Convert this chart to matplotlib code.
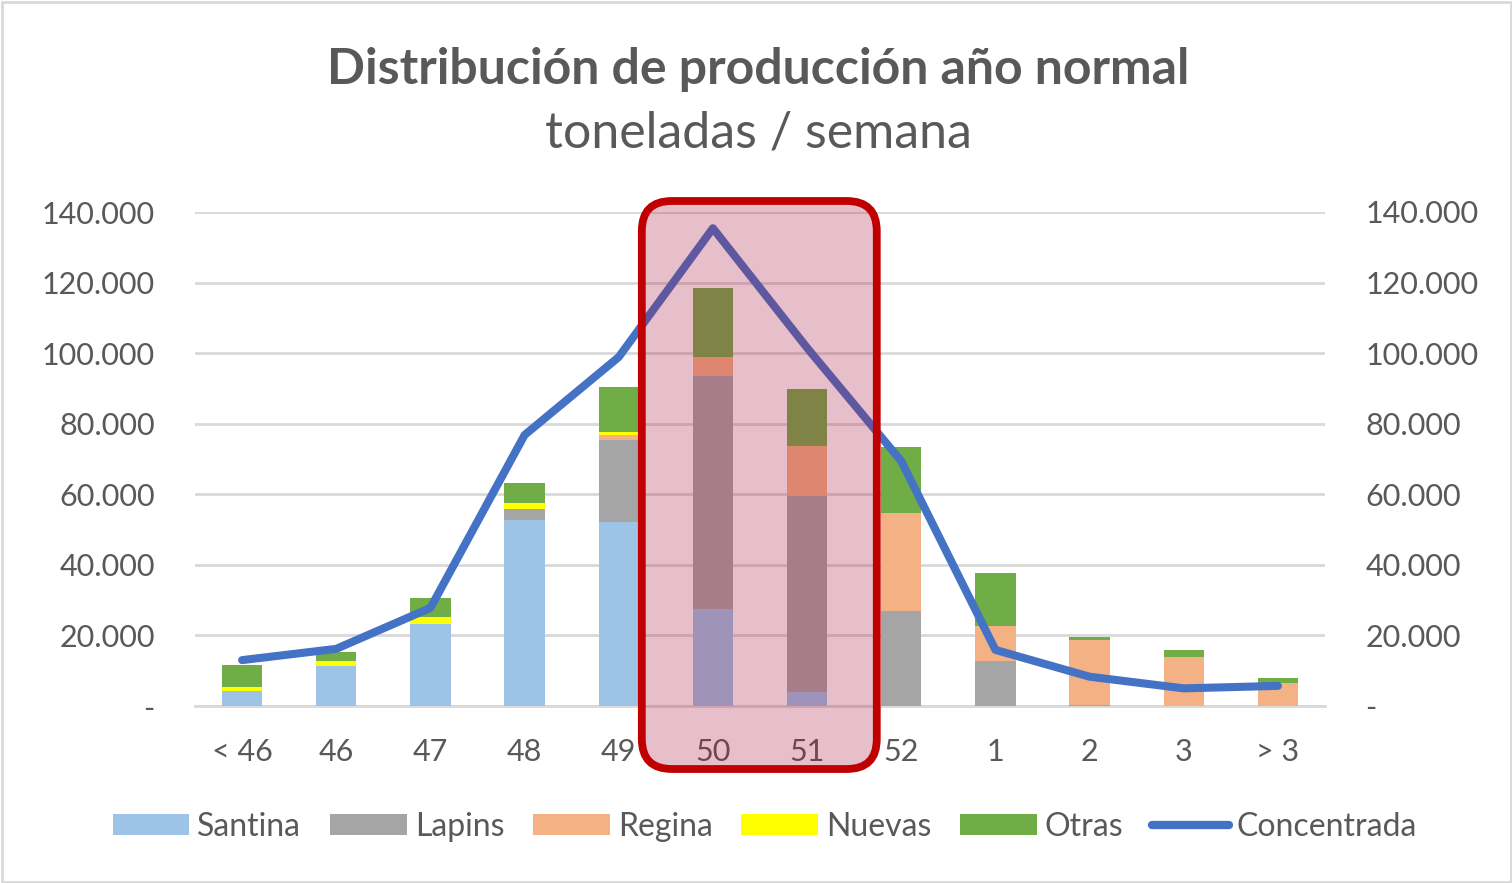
import matplotlib
matplotlib.use("Agg")
import matplotlib.pyplot as plt
from matplotlib.patches import FancyBboxPatch, Rectangle, Patch
from matplotlib.lines import Line2D
from matplotlib.ticker import FuncFormatter
import numpy as np

# ---- data ----
categories = ["< 46", "46", "47", "48", "49", "50", "51", "52", "1", "2", "3", "> 3"]
santina = [4300, 11300, 23200, 52700, 52200, 27400, 4100, 0, 0, 0, 0, 0]
lapins = [0, 0, 0, 3000, 23300, 66100, 55500, 26900, 12800, 400, 0, 0]
regina = [0, 0, 0, 0, 1200, 5300, 14200, 27700, 10000, 18300, 14000, 6600]
nuevas = [1200, 1500, 2100, 1700, 1000, 0, 0, 0, 0, 0, 0, 0]
otras = [6200, 2500, 5200, 5700, 12600, 19700, 16100, 18900, 15000, 800, 1900, 1400]
concentrada = [13000, 16200, 27800, 76800, 98900, 135400, 101500, 69400, 15900, 8300, 5000, 5700]
highlight = ["50", "51"]

series = [("Santina", santina, "#9DC3E6"),
          ("Lapins", lapins, "#A5A5A5"),
          ("Regina", regina, "#F4B183"),
          ("Nuevas", nuevas, "#FFFF00"),
          ("Otras", otras, "#70AD47")]

FONT = "Lato"
TXT = "#595959"
GRID = "#D9D9D9"

W, H = 1512, 883
fig = plt.figure(figsize=(W / 100, H / 100), dpi=100)
fig.patch.set_facecolor("white")

ax = fig.add_axes([195 / W, 1 - 706 / H, (1325 - 195) / W, (706 - 212) / H])
x = np.arange(len(categories))
bottom = np.zeros(len(categories))
for name, vals, col in series:
    v = np.array(vals, dtype=float)
    ax.bar(x, v, width=0.43, bottom=bottom, color=col, zorder=3, linewidth=0)
    bottom += v

ax2 = ax.twinx()
ax2.plot(x, concentrada, color="#4472C4", lw=5.8, solid_joinstyle="round",
         solid_capstyle="round", zorder=4)

for a in (ax, ax2):
    a.set_ylim(0, 140000)
    a.set_xlim(-0.5, len(categories) - 0.5)
    for s in a.spines.values():
        s.set_visible(False)
    a.set_yticks(np.arange(0, 140001, 20000))
    a.yaxis.set_major_formatter(FuncFormatter(
        lambda v, p: "-" if v == 0 else f"{int(v):,}".replace(",", ".")))
    a.tick_params(axis="y", length=0, pad=29, labelsize=22, labelcolor=TXT)
    for lab in a.get_yticklabels():
        lab.set_fontfamily(FONT)

ax.set_zorder(1)
ax2.set_zorder(2)
ax2.patch.set_visible(False)
ax.yaxis.grid(True, color=GRID, lw=2.0, zorder=0)
ax.set_axisbelow(True)
ax.spines["bottom"].set_visible(True)
ax.spines["bottom"].set_color(GRID)
ax.spines["bottom"].set_linewidth(2.0)
ax.set_xticks(x)
ax.set_xticklabels(categories, fontfamily=FONT, fontsize=22, color=TXT)
ax.tick_params(axis="x", length=0, pad=23)

# highlight box (in display pixels)
fig.canvas.draw()
i0 = categories.index(highlight[0])
i1 = categories.index(highlight[-1])
xl = ax.transData.transform((i0 - 0.755, 0))[0]
xr = ax.transData.transform((i1 + 0.74, 0))[0]
ytop = H - 201
ybot = H - 769
box = FancyBboxPatch((xl, ybot), xr - xl, ytop - ybot,
                     boxstyle="round,pad=0,rounding_size=30",
                     facecolor=(169 / 255, 19 / 255, 64 / 255, 0.27),
                     edgecolor="#C00000", linewidth=5.6,
                     transform=None, zorder=10)
fig.patches.append(box)

# outer frame
fig.patches.append(Rectangle((1.5, 1.5), W - 3, H - 3, transform=None,
                             fill=False, edgecolor=GRID, lw=2.0, zorder=11))

# titles
fig.text(758 / W, 1 - 69 / H, "Distribución de producción año normal",
         ha="center", va="center", fontsize=36, fontweight="bold",
         color=TXT, fontfamily=FONT)
fig.text(758 / W, 1 - 134 / H, "toneladas / semana",
         ha="center", va="center", fontsize=36, color=TXT, fontfamily=FONT)

# legend
handles = [Patch(facecolor=c, edgecolor="none", label=n) for n, _, c in series]
handles.append(Line2D([0], [0], color="#4472C4", lw=6, solid_capstyle="round",
                      label="Concentrada"))
leg = fig.legend(handles=handles, loc="center", bbox_to_anchor=(765 / W, 1 - 827 / H),
                 ncol=6, frameon=False, handlelength=2.4, handleheight=0.65,
                 handletextpad=0.25, columnspacing=0.9,
                 prop={"family": FONT, "size": 23})
for t in leg.get_texts():
    t.set_color(TXT)

fig.savefig("out.png", dpi=100)
